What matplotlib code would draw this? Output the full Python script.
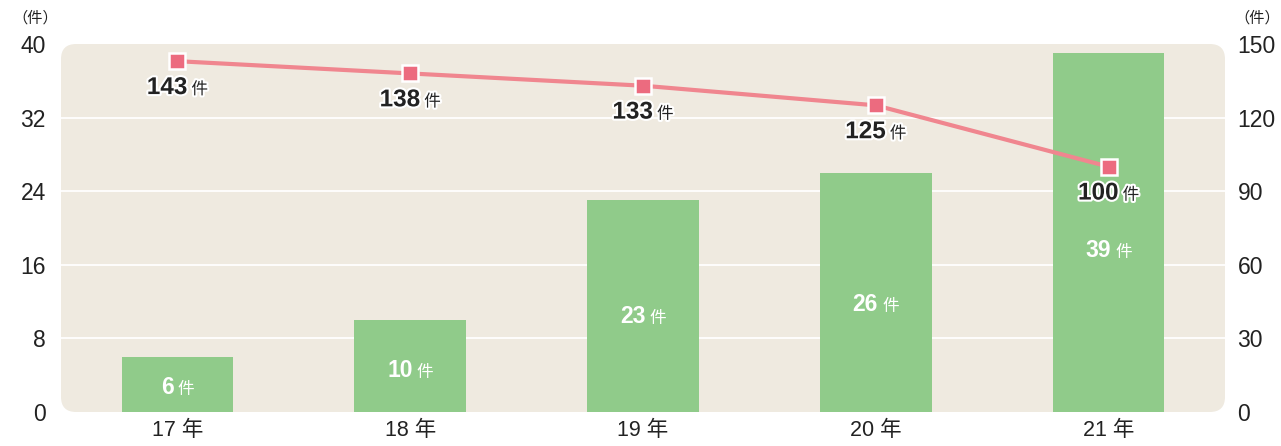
import matplotlib.pyplot as plt
import matplotlib.patheffects as pe
from matplotlib.patches import FancyBboxPatch
from matplotlib.offsetbox import TextArea, HPacker, AnnotationBbox

plt.rcParams['font.family'] = ['Liberation Sans', 'Noto Sans CJK JP', 'DejaVu Sans']

annees = ['17 年', '18 年', '19 年', '20 年', '21 年']
barres = [6, 10, 23, 26, 39]       # axe gauche
ligne = [143, 138, 133, 125, 100]  # axe droit
ticks_g = [0, 8, 16, 24, 32, 40]
ticks_d = [0, 30, 60, 90, 120, 150]

fond = '#efeae0'
vert = '#90cb8a'
rose_ligne = '#f0868f'
rose_point = '#ec6b7f'
texte = '#222222'

W, H = 1281, 446
fig = plt.figure(figsize=(W / 100, H / 100), dpi=100)
ax = fig.add_axes([61 / W, 34 / H, (1225 - 61) / W, (412 - 44) / H])
ax.set_facecolor('none')
ax2 = ax.twinx()

# fond arrondi
bg = FancyBboxPatch((0, 0), 1, 1, boxstyle='round,pad=0,rounding_size=0.013',
                    transform=ax.transAxes, facecolor=fond, edgecolor='none',
                    zorder=-10, mutation_aspect=1164 / 368)
ax.add_patch(bg)

x = list(range(len(annees)))
ax.set_xlim(-0.5, len(annees) - 0.5)
ax.set_ylim(0, 40)
ax2.set_ylim(0, 150)

for t in ticks_g[1:-1]:
    ax.axhline(t, color='white', lw=1.3, zorder=0)

ax.bar(x, barres, width=0.48, color=vert, zorder=2)

ax.set_yticks(ticks_g)
ax2.set_yticks(ticks_d)
ax.set_xticks(x, annees)
for a in (ax, ax2):
    for s in a.spines.values():
        s.set_visible(False)
ax.tick_params(axis='y', length=0, pad=11, labelsize=16.5, labelcolor=texte)
ax2.tick_params(axis='y', length=0, pad=9, labelsize=16.5, labelcolor=texte)
ax.tick_params(axis='x', length=0, pad=6, labelsize=15.5, labelcolor=texte)

ax2.plot(x, ligne, color=rose_ligne, lw=3, zorder=3)
ax2.plot(x, ligne, ls='none', marker='s', ms=11.5, mfc=rose_point, mec='white',
         mew=1.8, zorder=4)


def etiquette(axe, xy, nombre, couleur, contour, dy, taille):
    pe_list = [pe.withStroke(linewidth=3, foreground='white')] if contour else []
    n = TextArea(str(nombre), textprops=dict(fontsize=taille, fontweight='bold',
                                             color=couleur, path_effects=pe_list))
    k = TextArea('件', textprops=dict(fontsize=12, color=couleur,
                                      path_effects=pe_list))
    box = HPacker(children=[n, k], align='baseline', pad=0, sep=3)
    ab = AnnotationBbox(box, xy, xybox=(0, dy), xycoords='data',
                        boxcoords='offset points', frameon=False,
                        box_alignment=(0.5, 0.5), zorder=5)
    axe.add_artist(ab)


for xi, v in zip(x, ligne):
    etiquette(ax2, (xi, v), v, texte, True, -19, 17.5)

for xi, v in zip(x, barres):
    etiquette(ax, (xi, v * 0.45), v, 'white', False, 0, 16.5)

fig.text(12 / W, 1 - 18 / H, '（件）', fontsize=11, color=texte, va='center', ha='left')
fig.text(1234 / W, 1 - 18 / H, '（件）', fontsize=11, color=texte, va='center', ha='left')

fig.savefig('out.png', dpi=100)
